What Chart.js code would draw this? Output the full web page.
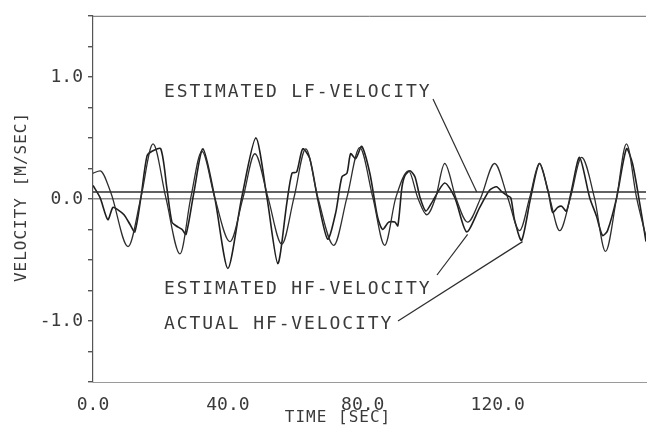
<!DOCTYPE html>
<html>
<head>
<meta charset="utf-8">
<script src="https://cdn.jsdelivr.net/npm/chart.js@4.4.1/dist/chart.umd.min.js"></script>
<style>
  html, body { margin: 0; padding: 0; background: #fff; }
  #wrap { width: 647px; height: 428px; }
</style>
</head>
<body>
<div id="wrap"><canvas id="velChart" width="647" height="428"></canvas></div>
<script>
// data (time in sec, velocity in m/sec)
const estHfTime = [0, 2.1, 5.3, 10.4, 14.2, 17.8, 21.6, 25.8, 29.0, 32.3, 36.1, 40.6, 44.5, 48.0, 51.9, 56.0, 59.6, 63.1, 66.7, 71.4, 75.3, 79.1, 83.0, 86.5, 89.8, 93.6, 96.3, 99.0, 101.6, 104.3, 107.6, 111.1, 115.0, 119.1, 123.0, 126.5, 129.5, 132.4, 135.4, 138.4, 141.6, 144.9, 148.7, 152.0, 155.3, 158.2, 161.2, 164.0];
const estHfVel  = [0.21, 0.23, 0.05, -0.39, 0.01, 0.45, 0.01, -0.45, 0.01, 0.39, 0.01, -0.35, 0.01, 0.37, 0.01, -0.37, 0.01, 0.41, 0.01, -0.38, 0.01, 0.42, 0.01, -0.38, 0.01, 0.23, 0.01, -0.13, 0.01, 0.29, 0.01, -0.19, 0.01, 0.29, 0.01, -0.26, 0.01, 0.29, 0.01, -0.26, 0.01, 0.34, 0.01, -0.43, 0.01, 0.45, 0.01, -0.31];

const actHfTime = [0, 2.1, 4.4, 5.9, 7.4, 9.2, 11.0, 12.4, 14.2, 16.0, 17.5, 20.1, 21.9, 23.4, 24.6, 26.4, 27.6, 29.9, 32.6, 36.1, 40.0, 44.1, 48.3, 51.6, 54.8, 57.5, 59.0, 60.4, 62.2, 64.3, 66.7, 69.6, 72.0, 73.8, 75.3, 76.4, 77.9, 79.7, 82.1, 84.4, 85.9, 87.7, 89.5, 90.4, 91.6, 92.5, 94.0, 95.5, 97.0, 98.7, 100.7, 104.3, 107.3, 110.8, 114.7, 117.6, 119.7, 121.2, 122.7, 123.9, 125.0, 127.1, 129.8, 132.4, 135.1, 136.3, 137.8, 139.0, 140.4, 141.9, 144.3, 147.3, 149.3, 151.1, 152.6, 155.3, 158.2, 160.0, 162.1, 164.0];
const actHfVel  = [0.11, 0.01, -0.17, -0.07, -0.09, -0.13, -0.21, -0.27, 0.01, 0.35, 0.39, 0.41, 0.09, -0.19, -0.22, -0.25, -0.29, 0.05, 0.41, 0.01, -0.57, 0.01, 0.50, 0.01, -0.53, -0.03, 0.21, 0.22, 0.41, 0.33, -0.01, -0.33, -0.11, 0.18, 0.21, 0.37, 0.33, 0.43, 0.21, -0.15, -0.25, -0.19, -0.19, -0.22, 0.09, 0.19, 0.23, 0.18, 0.01, -0.10, -0.02, 0.13, 0.01, -0.27, -0.07, 0.07, 0.10, 0.06, 0.03, 0.01, -0.17, -0.34, 0.01, 0.29, 0.05, -0.11, -0.07, -0.06, -0.10, 0.07, 0.34, 0.01, -0.14, -0.30, -0.26, 0.01, 0.41, 0.29, -0.03, -0.35];

const estLfTime = [0, 164];
const estLfVel  = [0.056, 0.056];

const xTickLabels = [0, 40, 80, 120];
const yTickLabels = [-1, 0, 1];

const ink = '#2e2e2e';
const monoFont = '"DejaVu Sans Mono", "Liberation Mono", monospace';

function toPoints(ts, vs) {
    return ts.map((t, i) => ({ x: t, y: vs[i] }));
}

// frame top line, axis titles and pointer labels
const paperPlugin = {
    id: 'paper',
    afterDraw(chart) {
        const c = chart.ctx;
        const area = chart.chartArea;
        const xs = chart.scales.x, ys = chart.scales.y;
        c.save();
        c.strokeStyle = '#666';
        c.lineWidth = 1;
        c.beginPath();
        c.moveTo(area.left, area.top + 0.5);
        c.lineTo(area.right, area.top + 0.5);
        c.stroke();

        c.fillStyle = '#3a3a3a';
        c.textBaseline = 'middle';
        c.textAlign = 'left';
        c.font = '18px ' + monoFont;
        c.letterSpacing = '1.9px';
        c.fillText('ESTIMATED LF-VELOCITY', 164, 92);
        c.fillText('ESTIMATED HF-VELOCITY', 164, 289);
        c.fillText('ACTUAL HF-VELOCITY', 164, 324);

        c.font = '16px ' + monoFont;
        c.letterSpacing = '1px';
        c.textAlign = 'center';
        c.fillText('TIME [SEC]', 338, 418);
        c.save();
        c.translate(22, 197);
        c.rotate(-Math.PI / 2);
        c.fillText('VELOCITY [M/SEC]', 0, 0);
        c.restore();

        // pointer lines to the curves
        c.strokeStyle = ink;
        c.lineWidth = 1.2;
        const ptr = (x0, y0, t, v) => {
            c.beginPath();
            c.moveTo(x0, y0);
            c.lineTo(xs.getPixelForValue(t), ys.getPixelForValue(v));
            c.stroke();
        };
        ptr(433, 99, 113.8, 0.056);
        ptr(437, 275, 111.1, -0.29);
        ptr(398, 321, 127.4, -0.35);
        c.restore();
    }
};

const ctx = document.getElementById('velChart').getContext('2d');
new Chart(ctx, {
    type: 'line',
    data: {
        datasets: [
            {
                label: 'ESTIMATED LF-VELOCITY',
                data: toPoints(estLfTime, estLfVel),
                borderColor: ink,
                borderWidth: 1.4,
                pointRadius: 0,
                tension: 0
            },
            {
                label: 'ESTIMATED HF-VELOCITY',
                data: toPoints(estHfTime, estHfVel),
                borderColor: ink,
                borderWidth: 1.3,
                pointRadius: 0,
                cubicInterpolationMode: 'monotone'
            },
            {
                label: 'ACTUAL HF-VELOCITY',
                data: toPoints(actHfTime, actHfVel),
                borderColor: '#1f1f1f',
                borderWidth: 1.6,
                pointRadius: 0,
                tension: 0.25
            }
        ]
    },
    options: {
        responsive: false,
        animation: false,
        layout: { padding: { top: 9, right: 1, left: 0, bottom: 0 } },
        plugins: {
            legend: { display: false },
            tooltip: { enabled: false }
        },
        scales: {
            x: {
                type: 'linear',
                min: 0,
                max: 164,
                afterFit: s => { s.height = 46; },
                border: { display: true, color: '#9a9a9a', width: 1, dash: [10, 3] },
                grid: { drawOnChartArea: false, tickLength: 0 },
                ticks: {
                    stepSize: 40,
                    includeBounds: false,
                    padding: 13,
                    maxRotation: 0,
                    color: '#3a3a3a',
                    font: { family: monoFont, size: 18 },
                    callback: v => xTickLabels.includes(v) ? v.toFixed(1) : ''
                }
            },
            y: {
                min: -1.5,
                max: 1.5,
                afterFit: s => { s.width = 93; },
                border: { display: true, color: '#555', width: 1.2 },
                grid: {
                    drawOnChartArea: true,
                    color: c => (c.tick && c.tick.value === 0) ? '#8a8a8a' : 'rgba(0,0,0,0)',
                    lineWidth: 1.4,
                    tickColor: '#555',
                    tickLength: 5
                },
                ticks: {
                    stepSize: 0.25,
                    padding: 5,
                    color: '#3a3a3a',
                    font: { family: monoFont, size: 18 },
                    callback: v => yTickLabels.includes(v) ? v.toFixed(1) : ''
                }
            }
        }
    },
    plugins: [paperPlugin]
});
</script>
</body>
</html>
